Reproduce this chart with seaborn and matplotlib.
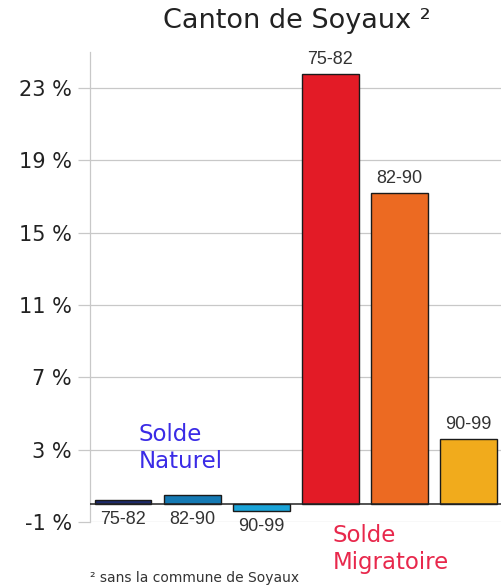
import matplotlib
matplotlib.use("Agg")
import matplotlib.pyplot as plt
import seaborn as sns
import pandas as pd

# Population change components by period (% of population)
periods = ["75-82", "82-90", "90-99"]
solde_naturel = [0.2, 0.5, -0.4]
solde_migratoire = [23.8, 17.2, 3.6]
bar_colors = ["#1c2a6c", "#1479b3", "#1ba4d8", "#e31b26", "#ec6a22", "#f1ab1c"]
y_ticks = [-1, 3, 7, 11, 15, 19, 23]

df = pd.DataFrame({
    "key": [f"N {p}" for p in periods] + [f"M {p}" for p in periods],
    "period": periods + periods,
    "value": solde_naturel + solde_migratoire,
})

sns.set_theme(style="white")
plt.rcParams["font.family"] = ["DejaVu Sans"]

fig = plt.figure(figsize=(5.01, 5.87), dpi=100)
fig.patch.set_facecolor("white")
ax = fig.add_axes([0.1796, 0.1107, 0.8204, 0.8007])

sns.barplot(data=df, x="key", y="value", hue="key", palette=bar_colors,
            saturation=1, width=0.82, edgecolor="#1a1a1a", linewidth=1.0,
            legend=False, ax=ax)

ax.set_ylim(-1, 25)
ax.set_xlim(-0.48, 5.47)
ax.set_yticks(y_ticks)
ax.set_yticklabels([f"{t} %" for t in y_ticks], fontsize=15, color="#222222")
ax.set_xticks([])
ax.set_xlabel("")
ax.set_ylabel("")
ax.yaxis.grid(True, color="#c8c8c8", linewidth=0.9)
ax.set_axisbelow(True)
ax.tick_params(axis="y", length=9, color="#c8c8c8", width=0.9, pad=4, left=True)
for side in ["top", "right", "bottom"]:
    ax.spines[side].set_visible(False)
ax.spines["left"].set_color("#c8c8c8")
ax.spines["left"].set_linewidth(0.9)
ax.axhline(0, color="#222222", linewidth=1.1, zorder=3)

# Period labels: below the axis for natural balance, above bars for migration
for i, (p, v) in enumerate(zip(df["period"], df["value"])):
    if i < 3:
        ax.annotate(p, (i, min(v, 0)), xytext=(0, -5), textcoords="offset points",
                    ha="center", va="top", fontsize=13, color="#333333",
                    family="Liberation Sans")
    else:
        ax.annotate(p, (i, v), xytext=(0, 4), textcoords="offset points",
                    ha="center", va="bottom", fontsize=13, color="#333333",
                    family="Liberation Sans")

ax.text(0.22, 3.1, "Solde\nNaturel", color="#3a2be6", fontsize=16.5,
        ha="left", va="center", linespacing=1.2)
ax.text(3.03, -2.5, "Solde\nMigratoire", color="#e8284c", fontsize=16.5,
        ha="left", va="center", linespacing=1.2, clip_on=False)

fig.text(0.593, 0.965, "Canton de Soyaux ²", ha="center", va="center",
         fontsize=19.5, color="#222222")
fig.text(0.18, 0.016, "² sans la commune de Soyaux", ha="left", va="center",
         fontsize=10, color="#333333")

fig.savefig("out.png", dpi=100, facecolor="white")
